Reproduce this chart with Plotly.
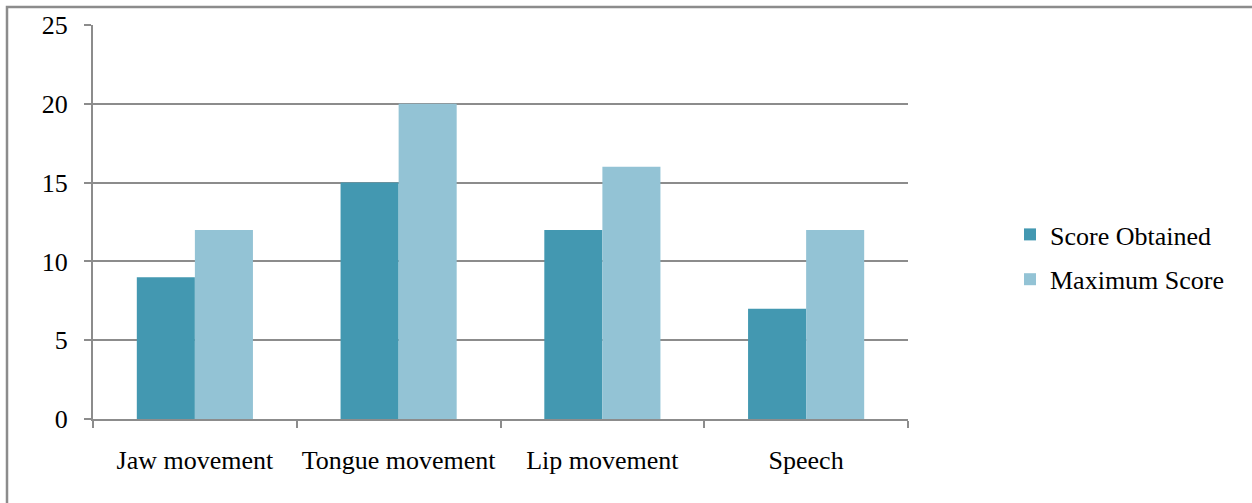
import plotly.graph_objects as go

categories = ["Jaw movement", "Tongue movement", "Lip movement", "Speech"]
score_obtained = [9, 15, 12, 7]
maximum_score = [12, 20, 16, 12]
y_ticks = [0, 5, 10, 15, 20, 25]

DARK = "#4398b1"
LIGHT = "#93c3d5"
GRID = "#8c8c8c"
FONT = dict(family="'Times New Roman', 'Liberation Serif', serif", size=26, color="black")

fig = go.Figure()
fig.add_trace(go.Bar(name="Score Obtained", x=categories, y=score_obtained,
                     legendgroup="a", marker=dict(color=DARK, line=dict(width=0))))
fig.add_trace(go.Bar(name="Maximum Score", x=categories, y=maximum_score,
                     legendgroup="b", marker=dict(color=LIGHT, line=dict(width=0))))

W, H = 1252, 503
L, R, T, B = 93, 344, 25, 84
pw, ph = W - L - R, H - T - B

def px_x(p):
    return (p - L) / pw

def px_y(p):
    return 1 - (p - T) / ph

fig.update_layout(
    width=W, height=H,
    margin=dict(l=L, r=R, t=T, b=B, autoexpand=False),
    paper_bgcolor="white", plot_bgcolor="white",
    font=FONT,
    barmode="group", bargap=0.43, bargroupgap=0,
    showlegend=True,
    legend=dict(x=px_x(1010), y=px_y(257), xanchor="left", yanchor="middle",
                font=FONT, tracegroupgap=8, itemwidth=30,
                bgcolor="rgba(0,0,0,0)"),
    xaxis=dict(type="category", showline=True, linecolor=GRID, linewidth=2,
               ticks="outside", tickson="boundaries", ticklen=7, tickcolor=GRID,
               tickwidth=2, showgrid=False, ticklabelstandoff=17, tickangle=0,
               automargin=False, tickfont=FONT),
    yaxis=dict(range=[0, 25], tickvals=y_ticks, showline=True, linecolor=GRID,
               linewidth=2, ticks="outside", ticklen=7, tickcolor=GRID, tickwidth=2,
               showgrid=True, gridcolor=GRID, gridwidth=2, zeroline=False,
               ticklabelstandoff=11, automargin=False, tickfont=FONT),
    shapes=[dict(type="rect", xref="paper", yref="paper",
                 x0=px_x(7), x1=px_x(1270), y0=px_y(520), y1=px_y(7),
                 line=dict(color=GRID, width=2.5), fillcolor="rgba(0,0,0,0)",
                 layer="below")],
)

fig.write_html("out.html")
